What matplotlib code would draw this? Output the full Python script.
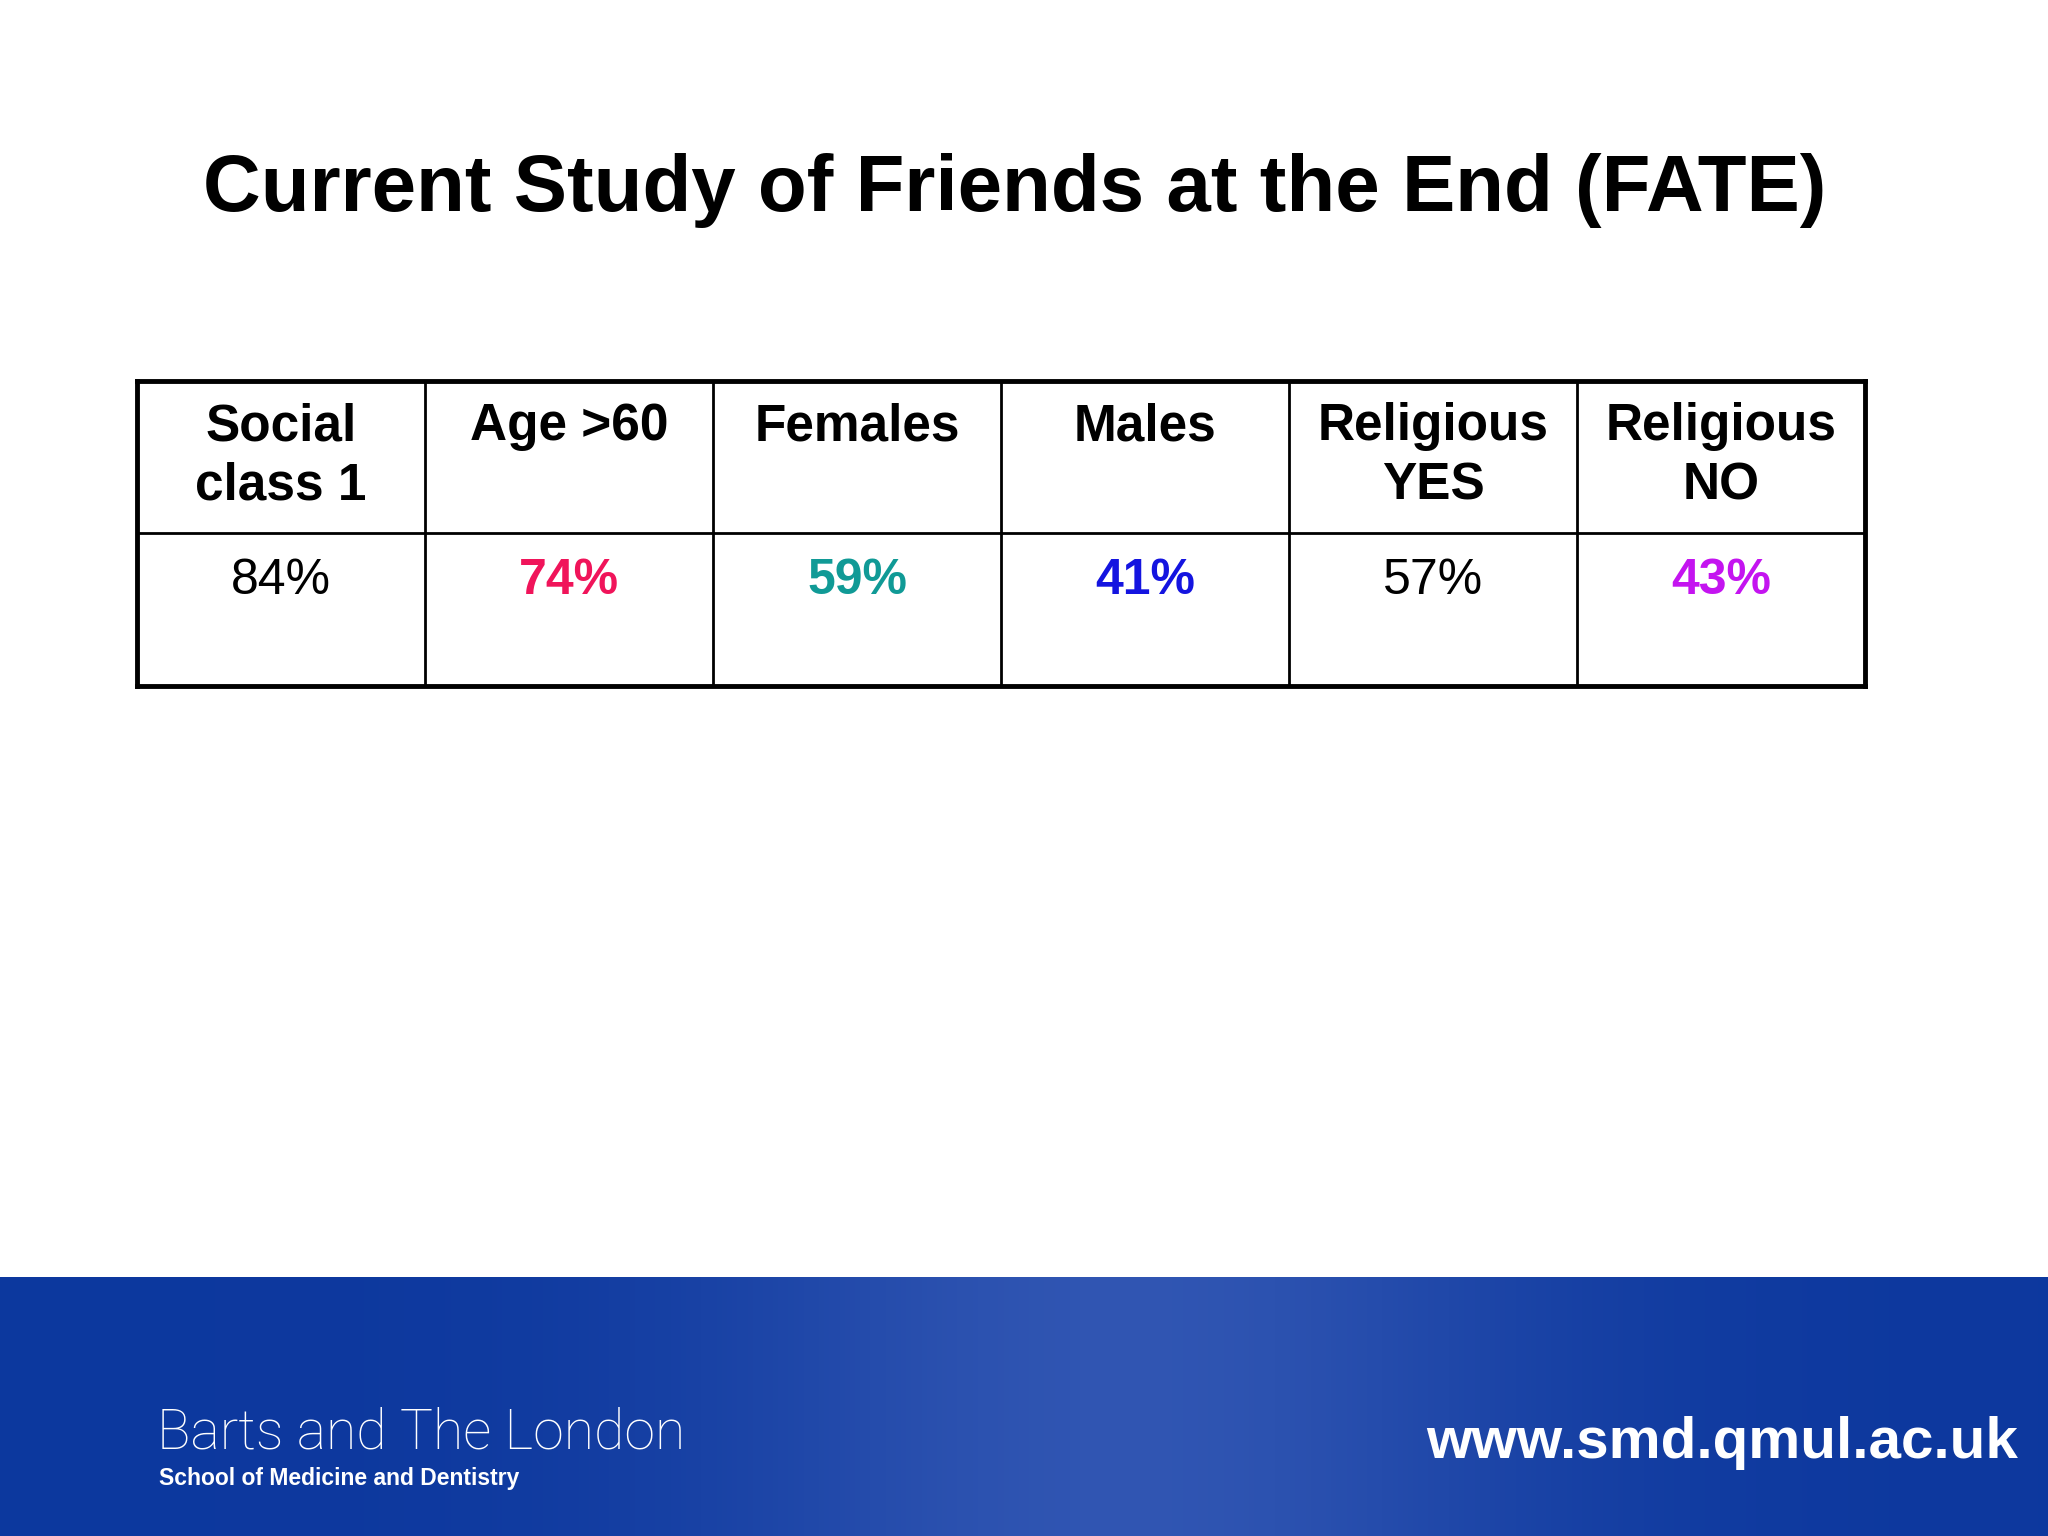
import matplotlib

matplotlib.use("Agg")

import matplotlib.pyplot as plt
import numpy as np

title = "Current Study of Friends at the End (FATE)"
headers = ["Social\nclass 1", "Age >60", "Females", "Males", "Religious\nYES", "Religious\nNO"]
values = [84, 74, 59, 41, 57, 43]
value_colors = ["#000000", "#f0145a", "#109a96", "#1414e0", "#000000", "#c414f0"]
value_bold = [False, True, True, True, False, True]

W, H = 1568, 1176  # reference layout units


def fx(x):
    return x / W


def fy(y):
    return 1 - y / H


fig = plt.figure(figsize=(20.48, 15.36), dpi=100)
plt.rcParams["font.family"] = ["Liberation Sans", "DejaVu Sans"]

fig.text(fx(777), fy(146), title, ha="center", va="center", fontsize=57.5, fontweight="bold")

# table grid
left, right, top, mid, bottom = 105, 1428, 292, 408, 525
ncol = len(headers)
cw = (right - left) / ncol
for y, lw in [(top, 3.5), (mid, 2), (bottom, 3.5)]:
    fig.add_artist(plt.Line2D([fx(left), fx(right)], [fy(y), fy(y)], color="black", lw=lw))
for i in range(ncol + 1):
    x = left + i * cw
    lw = 3.5 if i in (0, ncol) else 2
    fig.add_artist(plt.Line2D([fx(x), fx(x)], [fy(top), fy(bottom)], color="black", lw=lw))

for i, (h, v, c, b) in enumerate(zip(headers, values, value_colors, value_bold)):
    cx = left + (i + 0.5) * cw
    fig.text(fx(cx), fy(308), h, ha="center", va="top", fontsize=37, fontweight="bold",
             linespacing=1.28)
    fig.text(fx(cx), fy(445), f"{v}%", ha="center", va="center", fontsize=36,
             color=c, fontweight="bold" if b else "normal")

# footer band
ax = fig.add_axes([0, 0, 1, (H - 978) / H])
ax.set_axis_off()
xs = np.linspace(0, 1, 400)
glow = np.exp(-((xs - 0.55) / 0.2) ** 2) * 0.35
base = np.array([0.05, 0.22, 0.62])
light = np.array([0.45, 0.55, 0.85])
rgb = base[None, :] + glow[:, None] * (light - base)[None, :]
ax.imshow(rgb[None, :, :], aspect="auto", extent=[0, 1, 0, 1])
ax.set_xlim(0, 1)
ax.set_ylim(0, 1)

fig.text(fx(120), fy(1097), "Barts and The London", ha="left", va="center",
         fontsize=40, color="white", family=["Roboto", "DejaVu Sans"], fontweight="light")
fig.text(fx(122), fy(1132), "School of Medicine and Dentistry", ha="left", va="center",
         fontsize=16.5, color="white", fontweight="bold")
fig.text(fx(1545), fy(1105), "www.smd.qmul.ac.uk", ha="right", va="center",
         fontsize=42, color="white", fontweight="bold")

fig.savefig("out.png", dpi=100)
